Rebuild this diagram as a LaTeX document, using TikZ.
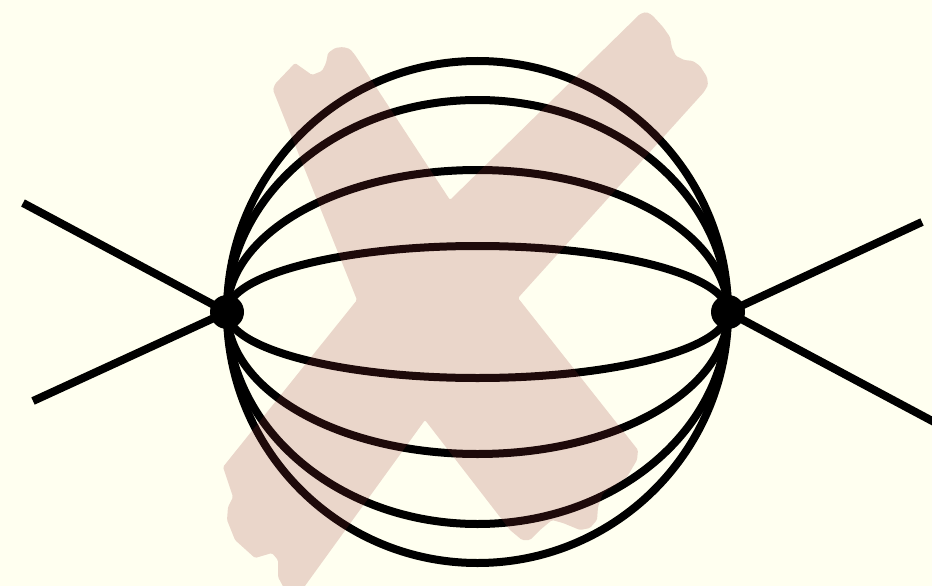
\documentclass[tikz,border=0pt]{standalone}
\definecolor{bgcream}{RGB}{255,255,240}
\definecolor{xred}{RGB}{150,50,50}
\begin{document}
\begin{tikzpicture}[x=1pt,y=-1pt,
  propline/.style={line width=8pt,black},
  vertexdot/.style={fill=black}]
\fill[bgcream] (0,0) rectangle (932,586);
\useasboundingbox (0,0) rectangle (932,586);
\clip (0,0) rectangle (932,586);
% vertices and external points
\coordinate (L) at (227,312);
\coordinate (R) at (728,312);
\coordinate (LA) at (23,203);
\coordinate (LB) at (33,401);
\coordinate (RA) at (922,222);
\coordinate (RB) at (936,423);
% external legs
\draw[propline] (L) -- (LA);
\draw[propline] (L) -- (LB);
\draw[propline] (R) -- (RA);
\draw[propline] (R) -- (RB);
% internal propagators (half ellipses from L to R)
\foreach \s in {251,212,142,66}{
  \draw[propline] (L) arc[start angle=180,end angle=360,x radius=250.5,y radius=\s];
  \draw[propline] (L) arc[start angle=180,end angle=0,x radius=250.5,y radius=\s];
}
\fill[vertexdot] (L) circle[radius=17];
\fill[vertexdot] (R) circle[radius=17];
% painted cross
\fill[xred,opacity=0.2,rounded corners=1.5pt]
 (273,90) -- (275,84) -- (295,63) -- (312,75) -- (322,71) -- (326,63) -- (328,53)
 -- (335,48) -- (343,47) -- (350,49) -- (355,55) -- (450,200)
 -- (640,14) -- (646,12) -- (652,15) -- (663,27) -- (670,37) -- (672,48) -- (676,56)
 -- (684,60) -- (693,61) -- (700,66) -- (707,77) -- (708,85) -- (704,92) -- (518,298)
 -- (638,450) -- (637,460) -- (627,477) -- (603,493) -- (598,507) -- (597,520)
 -- (590,528) -- (580,530) -- (563,523) -- (552,520) -- (540,530) -- (530,540)
 -- (522,540) -- (510,530) -- (425,420) -- (302,590) -- (285,590) -- (278,577)
 -- (278,560) -- (272,553) -- (255,558) -- (235,540) -- (227,520) -- (228,507)
 -- (233,497) -- (223,467) -- (357,300) -- cycle;
\end{tikzpicture}
\end{document}
